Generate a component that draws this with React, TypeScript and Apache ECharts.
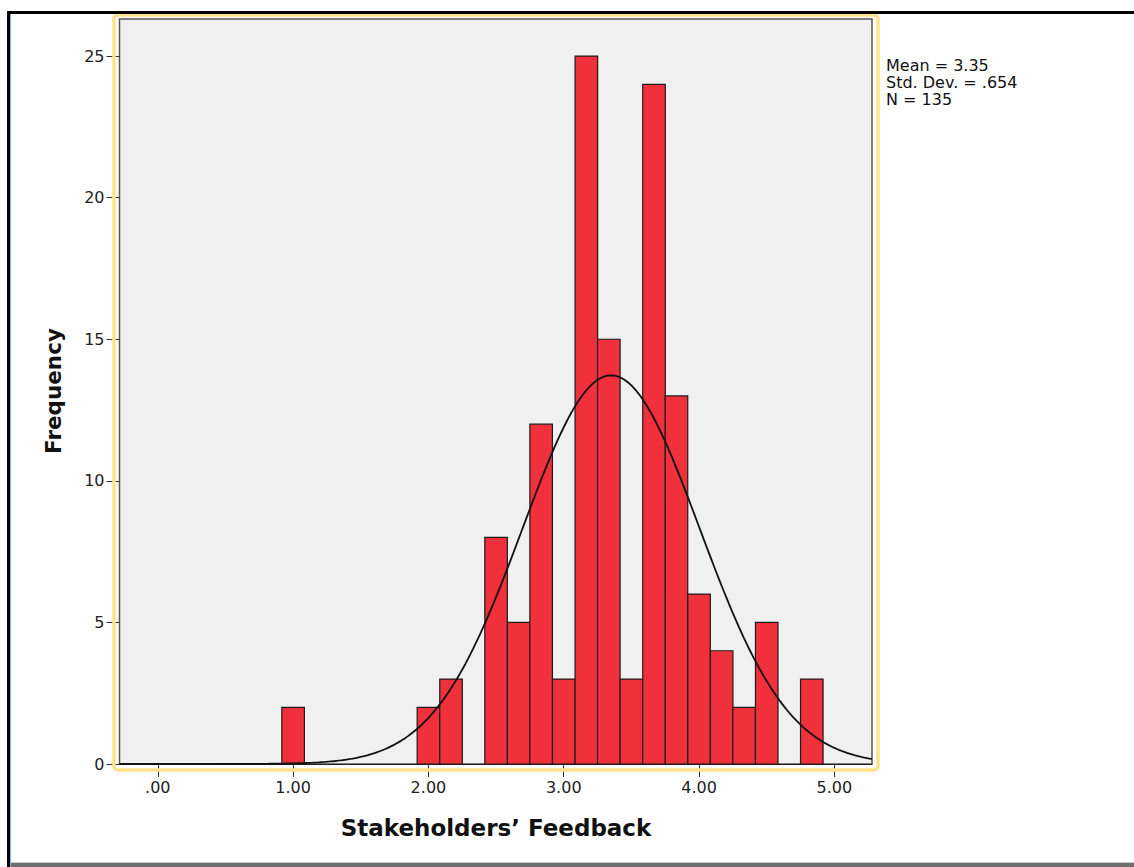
import React, { useEffect, useRef } from "react";
import * as echarts from "echarts";

// ---- data ----
const binWidth = 1 / 6;
const binCenters = [1.0, 2.0, 2.167, 2.5, 2.667, 2.833, 3.0, 3.167, 3.333, 3.5, 3.667, 3.833, 4.0, 4.167, 4.333, 4.5, 4.833];
const frequencies = [2, 2, 3, 8, 5, 12, 3, 25, 15, 3, 24, 13, 6, 4, 2, 5, 3];
const xTickValues = [0, 1, 2, 3, 4, 5];
const xTickLabels = [".00", "1.00", "2.00", "3.00", "4.00", "5.00"];
const yTickValues = [0, 5, 10, 15, 20, 25];
const yTickLabels = ["0", "5", "10", "15", "20", "25"];
const statMean = 3.35;
const statSd = 0.654;
const statN = 135;
const statLines = ["Mean = 3.35", "Std. Dev. = .654", "N = 135"];
const xTitle = "Stakeholders\u2019 Feedback";
const yTitle = "Frequency";

const xMin = -0.283;
const xMax = 5.278;
const yMax = 26.31;

// fitted normal curve defined by the displayed Mean / Std. Dev. / N
function normalCurve(): number[][] {
  const pts: number[][] = [];
  const steps = 300;
  for (let i = 0; i <= steps; i++) {
    const x = xMin + ((xMax - xMin) * i) / steps;
    const z = (x - statMean) / statSd;
    const y = (statN * binWidth) / (statSd * Math.sqrt(2 * Math.PI)) * Math.exp(-0.5 * z * z);
    pts.push([x, y]);
  }
  return pts;
}

const FONT = "DejaVu Sans";

export default function App() {
  const ref = useRef<HTMLDivElement>(null);
  useEffect(() => {
    if (!ref.current) return;
    const chart = echarts.init(ref.current, null, { renderer: "svg" });
    const barData = binCenters.map((c, i) => [c, frequencies[i]]);
    chart.setOption({
      animation: false,
      backgroundColor: "#ffffff",
      grid: {
        left: 119.5,
        top: 19,
        width: 752.5,
        height: 745,
        show: true,
        backgroundColor: "#F0F0F0",
        borderColor: "#555555",
        borderWidth: 1.5,
      },
      xAxis: {
        type: "value",
        min: xMin,
        max: xMax,
        axisLine: { show: true, onZero: false, lineStyle: { color: "#222", width: 1 } },
        axisTick: {
          show: true,
          length: 13,
          customValues: xTickValues,
          lineStyle: { color: "#333", width: 1 },
        },
        axisLabel: {
          customValues: xTickValues,
          margin: 15,
          color: "#222",
          fontFamily: FONT,
          fontSize: 16,
          formatter: (v: number) => {
            const i = xTickValues.indexOf(Math.round(v));
            return i >= 0 ? xTickLabels[i] : "";
          },
        },
        splitLine: { show: false },
      },
      yAxis: {
        type: "value",
        min: 0,
        max: yMax,
        axisLine: { show: false, onZero: false },
        axisTick: {
          show: true,
          length: 13,
          customValues: yTickValues,
          lineStyle: { color: "#333", width: 1 },
        },
        axisLabel: {
          customValues: yTickValues,
          margin: 15,
          color: "#222",
          fontFamily: FONT,
          fontSize: 16,
          formatter: (v: number) => {
            const i = yTickValues.indexOf(Math.round(v));
            return i >= 0 ? yTickLabels[i] : "";
          },
        },
        splitLine: { show: false },
      },
      series: [
        {
          type: "custom",
          data: barData,
          encode: { x: 0, y: 1 },
          z: 2,
          renderItem: (params: any, api: any) => {
            const c = api.value(0);
            const v = api.value(1);
            const p0 = api.coord([c - binWidth / 2, v]);
            const p1 = api.coord([c + binWidth / 2, 0]);
            return {
              type: "rect",
              shape: { x: p0[0], y: p0[1], width: p1[0] - p0[0], height: p1[1] - p0[1] },
              style: { fill: "#F0303A", stroke: "#1c1c1c", lineWidth: 1.2 },
            };
          },
        },
        {
          type: "line",
          data: normalCurve(),
          showSymbol: false,
          symbol: "none",
          z: 5,
          lineStyle: { color: "#111", width: 1.8 },
        },
      ],
      graphic: [
        {
          type: "rect",
          z: 100,
          silent: true,
          shape: { x: 114, y: 15, width: 764, height: 755, r: 4 },
          style: { fill: "none", stroke: "#FFE38C", lineWidth: 3.5 },
        },
        {
          type: "text",
          z: 100,
          x: 886,
          y: 57,
          style: {
            text: statLines.join("\n"),
            fontFamily: FONT,
            fontSize: 16,
            lineHeight: 17,
            fill: "#111",
            verticalAlign: "top",
          },
        },
        {
          type: "text",
          z: 100,
          x: 496,
          y: 828,
          style: {
            text: xTitle,
            fontFamily: FONT,
            fontSize: 23,
            fontWeight: "bold",
            fill: "#111",
            align: "center",
            verticalAlign: "middle",
          },
        },
        {
          type: "text",
          z: 100,
          x: 53,
          y: 391,
          rotation: Math.PI / 2,
          style: {
            text: yTitle,
            fontFamily: FONT,
            fontSize: 21.5,
            fontWeight: "bold",
            fill: "#111",
            align: "center",
            verticalAlign: "middle",
          },
        },
        // window frame lines
        { type: "rect", z: 100, shape: { x: 7, y: 11, width: 1127, height: 3 }, style: { fill: "#000" } },
        { type: "rect", z: 100, shape: { x: 7, y: 11, width: 3, height: 856 }, style: { fill: "#000" } },
        { type: "rect", z: 100, shape: { x: 10, y: 14, width: 1, height: 853 }, style: { fill: "#7FB2EE" } },
        { type: "rect", z: 100, shape: { x: 11, y: 862, width: 1123, height: 1 }, style: { fill: "#C8C8C8" } },
        { type: "rect", z: 100, shape: { x: 11, y: 863, width: 1123, height: 4 }, style: { fill: "#6E6E6E" } },
      ],
    });
    return () => chart.dispose();
  }, []);
  return (
    <div
      ref={ref}
      style={{ position: "absolute", left: 0, top: 0, width: 1134, height: 867, background: "#fff" }}
    />
  );
}
